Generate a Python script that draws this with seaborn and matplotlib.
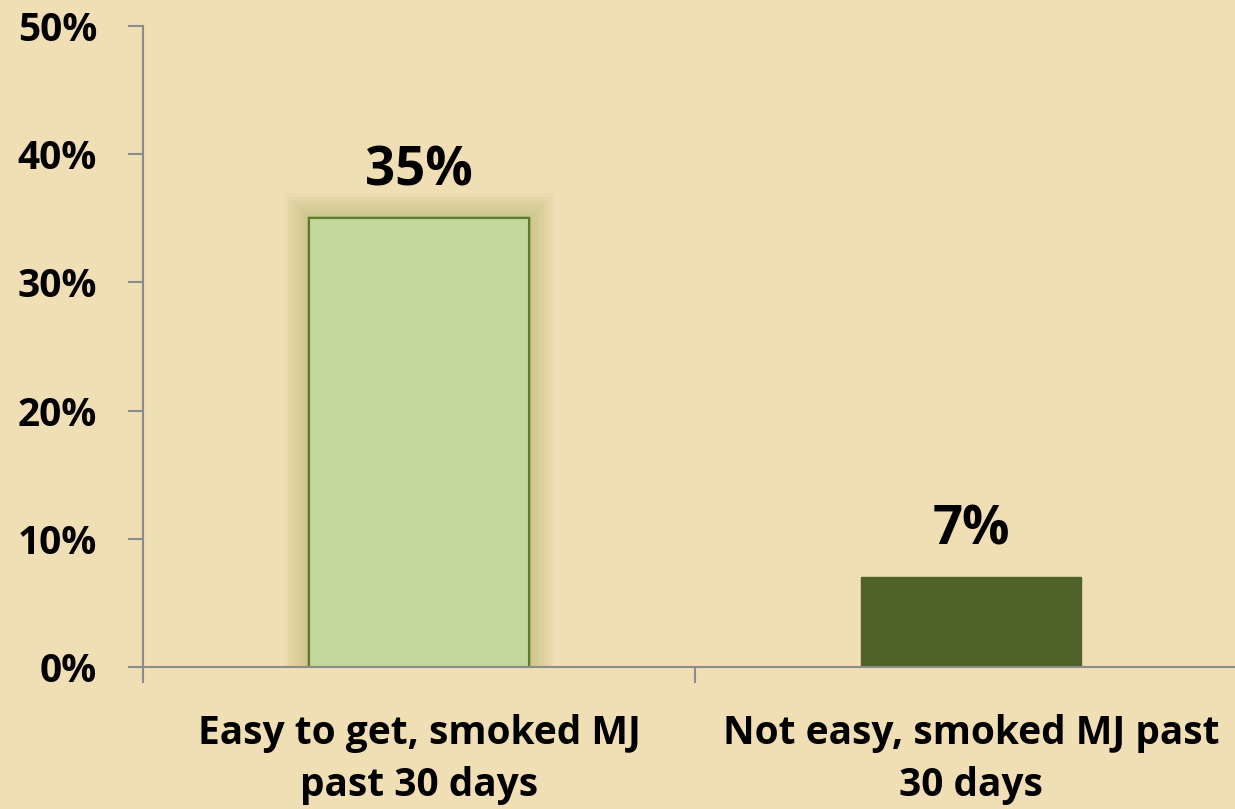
import matplotlib
matplotlib.use("Agg")
import matplotlib.pyplot as plt
import matplotlib.patheffects as pe
import seaborn as sns
import pandas as pd

# data
categories = ["Easy to get, smoked MJ\npast 30 days", "Not easy, smoked MJ past\n30 days"]
values = [35, 7]
bar_labels = ["35%", "7%"]
y_ticks = [0, 10, 20, 30, 40, 50]
y_tick_labels = ["0%", "10%", "20%", "30%", "40%", "50%"]

BG = "#F0DEB5"
COLORS = ["#C3D69B", "#4F6228"]

sns.set_theme(style="white")
plt.rcParams["font.family"] = ["Open Sans", "DejaVu Sans"]
plt.rcParams["font.weight"] = "bold"

df = pd.DataFrame({"cat": categories, "val": values})

fig = plt.figure(figsize=(12.35, 8.09), dpi=100)
fig.patch.set_facecolor(BG)
# axes right edge runs slightly past the figure, like the original
ax = fig.add_axes([143 / 1235, 1 - 667 / 809, (1247 - 143) / 1235, (667 - 26) / 809])
ax.set_facecolor(BG)

sns.barplot(data=df, x="cat", y="val", hue="cat", palette=COLORS, width=0.4,
            legend=False, ax=ax, saturation=1)

ax.set_ylim(0, 50)
ax.set_xlim(-0.5, 1.5)
ax.set_yticks(y_ticks)
ax.set_yticklabels(y_tick_labels, fontsize=28, fontweight="bold")
ax.set_xlabel("")
ax.set_ylabel("")

# light bar gets a dark edge and a soft green glow
bars = ax.patches
bars[0].set_edgecolor("#5E7A2E")
bars[0].set_linewidth(1.5)
glow = [pe.withStroke(linewidth=w, foreground="#A6AC5C", alpha=0.07)
        for w in (36, 31, 26, 21, 16, 11, 6)]
bars[0].set_path_effects(glow + [pe.Normal()])
bars[1].set_edgecolor("#4F6228")

for bar, lab in zip(bars, bar_labels):
    ax.text(bar.get_x() + bar.get_width() / 2, bar.get_height() + 2.55, lab,
            ha="center", va="baseline", fontsize=38, fontweight="bold", color="black")

# category labels with ticks at category boundaries
ax.set_xticks([-0.5, 0.5, 1.5])
ax.set_xticklabels([])
for i, c in enumerate(categories):
    ax.text(i, -3.7, c, ha="center", va="top", fontsize=28, fontweight="bold",
            linespacing=1.42, color="black", transform=ax.transData)

for s in ["top", "right"]:
    ax.spines[s].set_visible(False)
for s in ["left", "bottom"]:
    ax.spines[s].set_color("#8C8C8C")
    ax.spines[s].set_linewidth(1.5)
ax.tick_params(axis="y", length=11, width=1.5, color="#8C8C8C", pad=22, left=True,
               labelcolor="black")
ax.tick_params(axis="x", length=11.5, width=1.5, color="#8C8C8C", bottom=True)

fig.savefig("out.png", dpi=100, facecolor=BG)
